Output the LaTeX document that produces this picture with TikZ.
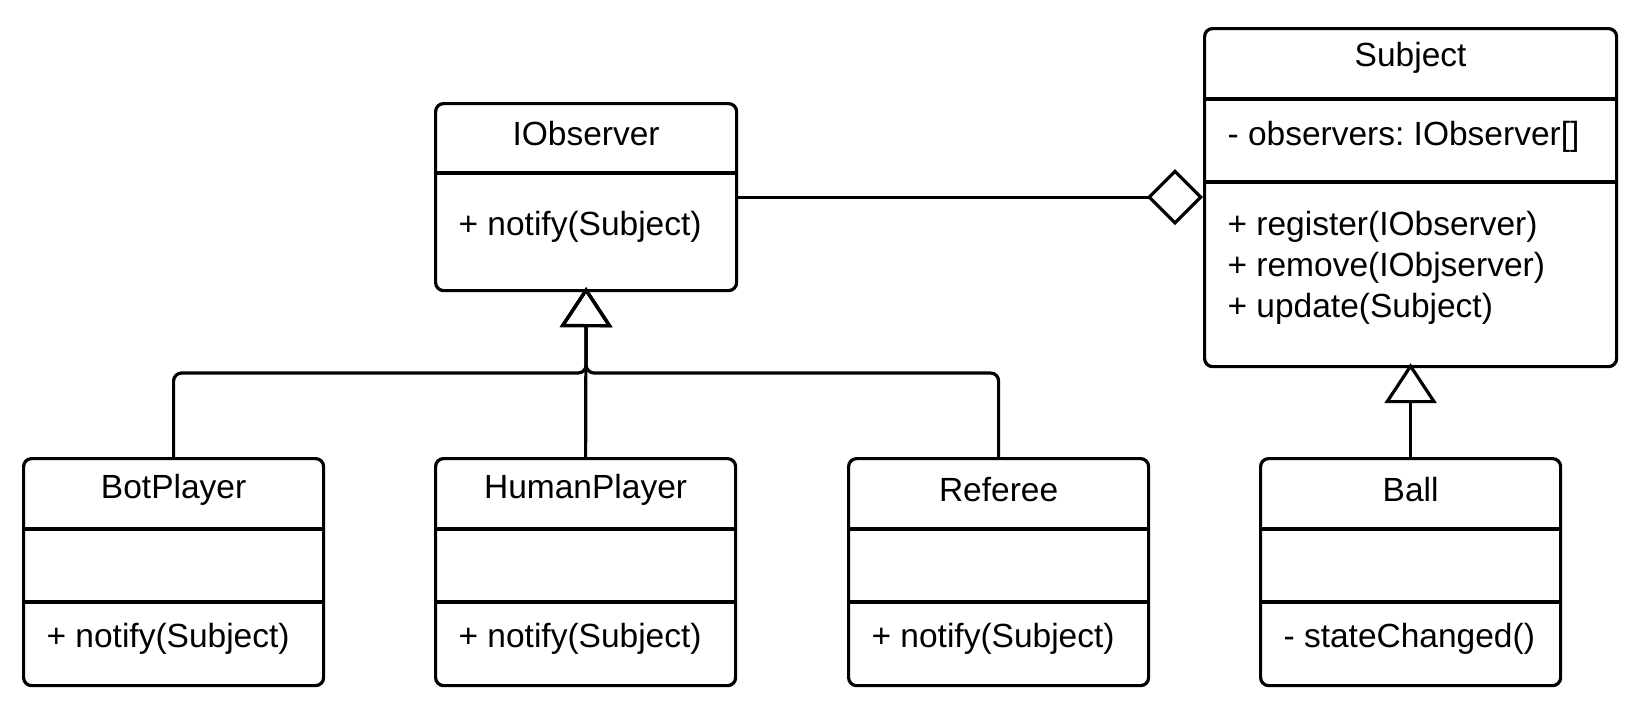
\documentclass[tikz,border=0pt]{standalone}
\usepackage{fontspec}
\setmainfont{Liberation Sans}
\usetikzlibrary{arrows.meta}

\tikzset{
  classbox/.style={draw, rounded corners=4pt, minimum width=150pt, minimum height=113.5pt, inner sep=0pt, anchor=north west},
  member/.style={anchor=west, inner sep=0pt, xshift=11.5pt, align=left},
  title/.style={inner sep=0pt},
  inherit/.style={-{Triangle[open, length=20pt, width=26pt]}, shorten >=-2.5pt, rounded corners=4pt},
  aggregate/.style={-{Diamond[open, length=28pt, width=28pt]}},
}

\begin{document}
\frenchspacing
\begin{tikzpicture}[x=0.5pt, y=-0.5pt, line width=1.6pt, font=\fontsize{16.75}{20.5}\selectfont]
  \useasboundingbox (0,0) rectangle (1634,724);

  % classes
  \node[classbox, minimum width=150.5pt, minimum height=93.5pt] at (434,102) (iobs) {};
  \node[classbox, minimum width=206pt, minimum height=169pt] at (1203,27) (subj) {};

  \node[classbox] at (22,457)   (bot)   {};
  \node[classbox] at (434,457)  (human) {};
  \node[classbox] at (847,457)  (ref)   {};
  \node[classbox] at (1259,457) (ball)  {};

  % compartments
  \draw (iobs.west |- 0,173) -- (iobs.east |- 0,173);
  \draw (subj.west |- 0,99) -- (subj.east |- 0,99);
  \draw (subj.west |- 0,182) -- (subj.east |- 0,182);
  \foreach \n in {bot, human, ref, ball} {
    \draw (\n.west |- 0,529) -- (\n.east |- 0,529);
    \draw (\n.west |- 0,602) -- (\n.east |- 0,602);
  }

  % texts
  \node[title] at (iobs.north |- 0,134) (iobs-title) {IObserver};
  \node[member] at (iobs.west |- 0,227) (iobs-op) {+ notify(Subject)};

  \node[title] at (subj.north |- 0,58) (subj-title) {Subject};
  \node[member] at (subj.west |- 0,137) (subj-attr) {- observers: IObserver[]};
  \node[member] at (subj.west |- 0,268) (subj-op) {+ register(IObserver)\\+ remove(IObjserver)\\+ update(Subject)};

  \node[title] at (bot.north |- 0,490)   (bot-title)   {BotPlayer};
  \node[title] at (human.north |- 0,490) (human-title) {HumanPlayer};
  \node[title] at (ref.north |- 0,490)   (ref-title)   {Referee};
  \node[title] at (ball.north |- 0,490)  (ball-title)  {Ball};

  \node[member] at (bot.west |- 0,639)   (bot-op)   {+ notify(Subject)};
  \node[member] at (human.west |- 0,639) (human-op) {+ notify(Subject)};
  \node[member] at (ref.west |- 0,639)   (ref-op)   {+ notify(Subject)};
  \node[member] at (ball.west |- 0,639)  (ball-op)  {- stateChanged()};

  % relations
  \coordinate (bus) at (iobs.south |- 0,373);
  \draw[inherit] (bot.north) |- (bus) -- (iobs.south);
  \draw[inherit] (ref.north) |- (bus) -- (iobs.south);
  \draw[inherit] (human.north) -- (iobs.south);
  \draw[inherit] (ball.north) -- (subj.south);

  \draw[aggregate] (iobs.east) -- (subj.west |- iobs.east);
\end{tikzpicture}
\end{document}
